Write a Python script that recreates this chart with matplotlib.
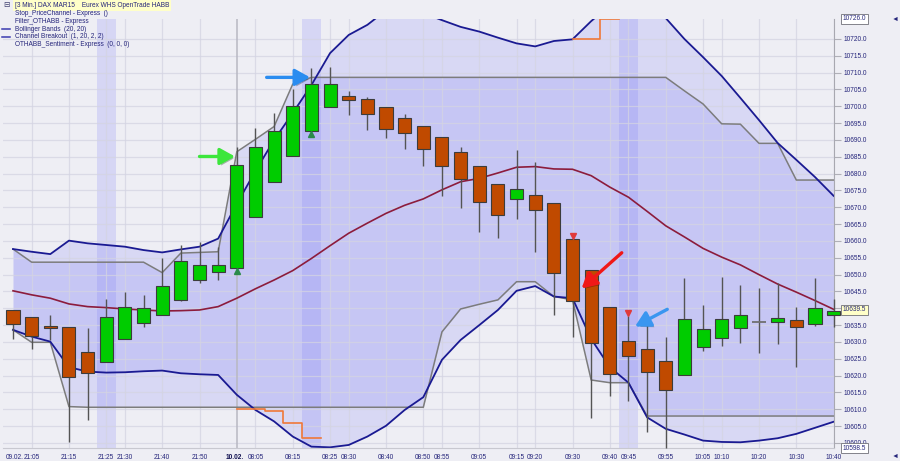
import matplotlib
matplotlib.use("Agg")
import matplotlib.pyplot as plt
import numpy as np
from matplotlib import patheffects as pe
from matplotlib.lines import Line2D
from matplotlib.transforms import blended_transform_factory

plt.rcParams['font.family'] = ['Liberation Sans', 'DejaVu Sans']

# ---------------- data ----------------
opens = [10639.5, 10637.3, 10634.6, 10634.3, 10627.0, 10623.9, 10630.8, 10635.6, 10637.9, 10642.4,
         10648.3, 10650.7, 10651.9, 10667.2, 10677.6, 10685.3, 10692.8, 10699.7, 10703.1, 10702.3,
         10699.9, 10696.5, 10694.2, 10690.8, 10686.4, 10682.3, 10676.8, 10672.4, 10673.7, 10671.3,
         10660.7, 10651.4, 10640.5, 10630.3, 10628.0, 10624.4, 10620.2, 10628.4, 10631.2, 10634.1,
         10636.0, 10636.0, 10636.5, 10635.4, 10638.0]
highs = [10639.5, 10637.3, 10638.0, 10634.3, 10634.0, 10642.8, 10644.9, 10643.9, 10654.9, 10658.8,
         10659.8, 10658.3, 10688.0, 10693.7, 10697.9, 10705.1, 10711.3, 10711.6, 10704.6, 10702.9,
         10699.9, 10697.6, 10694.2, 10690.8, 10687.9, 10682.3, 10676.8, 10687.0, 10683.5, 10671.3,
         10660.7, 10651.4, 10640.5, 10637.7, 10635.4, 10631.4, 10648.9, 10640.9, 10649.4, 10646.9,
         10646.0, 10647.4, 10640.5, 10648.9, 10642.9]
lows = [10630.8, 10627.8, 10630.6, 10600.2, 10606.8, 10623.9, 10630.8, 10634.4, 10637.9, 10642.2,
        10647.4, 10648.4, 10651.9, 10667.2, 10677.6, 10685.3, 10692.8, 10699.7, 10697.4, 10693.0,
        10690.5, 10687.3, 10682.4, 10673.4, 10669.8, 10662.8, 10660.9, 10666.4, 10656.8, 10638.0,
        10631.4, 10607.3, 10613.8, 10612.5, 10603.4, 10598.5, 10620.2, 10627.3, 10628.8, 10629.8,
        10626.8, 10629.4, 10622.5, 10634.6, 10634.4]
closes = [10635.3, 10631.9, 10634.0, 10619.7, 10620.7, 10637.4, 10640.4, 10640.1, 10646.6, 10654.0,
          10653.0, 10653.0, 10682.6, 10688.0, 10692.7, 10700.1, 10706.6, 10706.6, 10701.8, 10697.7,
          10693.4, 10692.0, 10687.4, 10682.2, 10678.4, 10671.7, 10667.6, 10675.3, 10669.2, 10650.4,
          10642.3, 10629.6, 10620.4, 10625.9, 10621.1, 10615.7, 10636.8, 10633.8, 10636.9, 10637.9,
          10636.0, 10637.0, 10634.3, 10640.1, 10639.3]

bb_upper = [10657.6, 10656.8, 10656.1, 10660.1, 10659.3, 10658.8, 10658.3, 10657.3, 10656.6, 10657.5,
            10658.3, 10660.7, 10671.0, 10680.8, 10690.0, 10698.0, 10706.3, 10715.8, 10721.2, 10724.2,
            10728.5, 10729.5, 10727.7, 10725.6, 10723.6, 10722.2, 10720.4, 10718.7, 10717.8, 10719.4,
            10719.9, 10725.3, 10730.0, 10732.0, 10730.0, 10726.2, 10720.0, 10714.6, 10709.0, 10702.5,
            10695.9, 10689.1, 10684.1, 10679.0, 10673.4]
bb_lower = [10633.6, 10631.6, 10630.1, 10622.5, 10621.2, 10620.9, 10621.0, 10621.3, 10621.5, 10620.7,
            10620.4, 10620.2, 10614.3, 10609.8, 10606.4, 10601.9, 10598.9, 10598.7, 10599.4, 10601.9,
            10605.1, 10609.8, 10613.6, 10624.7, 10630.6, 10635.0, 10639.5, 10645.2, 10646.6, 10643.5,
            10643.0, 10630.9, 10622.5, 10617.9, 10607.6, 10604.2, 10602.5, 10600.7, 10600.3, 10600.2,
            10600.7, 10601.4, 10602.7, 10604.5, 10606.3]
bb_mid = [10645.2, 10644.0, 10643.0, 10641.3, 10640.5, 10640.2, 10639.8, 10639.5, 10639.2, 10639.3,
          10639.5, 10640.5, 10643.0, 10645.8, 10648.4, 10651.2, 10654.8, 10658.6, 10662.3, 10665.3,
          10668.2, 10670.6, 10672.5, 10675.2, 10677.6, 10678.6, 10680.2, 10681.9, 10682.1, 10681.4,
          10681.3, 10679.4, 10676.0, 10673.0, 10668.8, 10664.5, 10661.2, 10657.8, 10655.2, 10652.9,
          10650.0, 10647.2, 10644.8, 10642.3, 10639.7]
ch_upper = [10657.6, 10653.7, 10653.7, 10653.7, 10653.7, 10653.7, 10653.7, 10653.7, 10650.6, 10656.4,
            10656.6, 10656.8, 10686.5, 10690.2, 10694.0, 10706.6, 10708.6, 10708.6, 10708.6, 10708.6,
            10708.6, 10708.6, 10708.6, 10708.6, 10708.6, 10708.6, 10708.6, 10708.6, 10708.6, 10708.6,
            10708.6, 10708.6, 10708.6, 10708.6, 10708.6, 10708.6, 10704.6, 10700.7, 10694.8, 10694.7,
            10689.0, 10689.0, 10678.1, 10678.1, 10678.1]
ch_lower = [10633.6, 10629.9, 10629.9, 10610.8, 10610.6, 10610.6, 10610.6, 10610.6, 10610.6, 10610.6,
            10610.6, 10610.6, 10610.6, 10610.6, 10610.6, 10610.6, 10610.6, 10610.6, 10610.6, 10610.6,
            10610.6, 10610.6, 10610.6, 10633.0, 10639.8, 10641.2, 10642.5, 10647.9, 10647.9, 10643.5,
            10642.5, 10618.7, 10617.9, 10617.9, 10608.0, 10608.0, 10608.0, 10608.0, 10608.0, 10608.0,
            10608.0, 10608.0, 10608.0, 10608.0, 10608.0]

stop_hi_bars = [30, 31, 32]
stop_hi = [10719.9, 10719.9, 10725.9]
stop_lo_bars = [12, 13, 14, 15, 16]
stop_lo = [10610.0, 10610.0, 10609.5, 10606.0, 10601.4]

filter_bars = [5, 16, 33]
buy_bars = [12, 16]
sell_bars = [30, 33]

tick_bars = [1, 3, 5, 6, 8, 10, 13, 15, 17, 18, 20, 22, 23, 25, 27, 28, 30, 32, 33, 35, 37, 38, 40, 42, 44]
tick_labels = ['21:05', '21:15', '21:25', '21:30', '21:40', '21:50', '08:05', '08:15', '08:25', '08:30',
               '08:40', '08:50', '08:55', '09:05', '09:15', '09:20', '09:30', '09:40', '09:45', '09:55',
               '10:05', '10:10', '10:20', '10:30', '10:40']
day_break_bar = 12

# annotation arrows: (tail bar, tail price, tip bar, tip price, colour)
arrows = [(10.0, 10685.1, 11.9, 10685.1, '#3CE63C'),
          (13.6, 10708.6, 15.93, 10708.6, '#2A8CF0'),
          (32.64, 10656.5, 30.49, 10645.9, '#F01818'),
          (35.08, 10639.7, 33.35, 10634.6, '#3A96F0')]

legend_lines = ['Stop_PriceChannel - Express  ()', 'Filter_OTHABB - Express', 'Bollinger Bands  (20, 20)',
                'Channel Breakout  (1, 20, 2, 2)', 'OTHABB_Sentiment - Express  (0, 0, 0)']
title_text = '[3 Min.] DAX MAR15    Eurex WHS OpenTrade HABB'
last_price = 10639.5
range_high = 10726.0
range_low = 10598.5

# ---------------- drawing ----------------
W, H = 900, 461
BG = '#EEEEF4'
NAVY = '#24247A'
FS = 4.7
fig = plt.figure(figsize=(W / 100, H / 100), dpi=100, facecolor=BG)
ax = fig.add_axes([3 / W, 1 - 448 / H, 831 / W, (448 - 18.8) / H])
ax.set_facecolor(BG)
ax.set_xlim(-0.536, 44.02)
ax.set_ylim(range_low, range_high)

n = len(opens)
x = np.arange(n)
fill_c = (118 / 255, 118 / 255, 245 / 255)

ax.fill_between(x, bb_lower, bb_upper, color=fill_c, alpha=0.18, lw=0, zorder=1)
ax.fill_between(x, ch_lower, ch_upper, color=fill_c, alpha=0.18, lw=0, zorder=1)
for b in filter_bars:
    ax.axvspan(b - 0.5, b + 0.5, color=fill_c, alpha=0.2, lw=0, zorder=1.1)

# grid
ax.set_axisbelow('line')
ax.set_yticks(np.arange(10600, 10721, 5))
ax.set_xticks(tick_bars)
ax.set_xticklabels(tick_labels)
ax.grid(True, color='#D4D4E2', alpha=0.75, lw=0.9)
ax.axvline(day_break_bar, color='#B8B8C2', lw=1.1, zorder=1.6)

# indicator lines
ax.plot(x, ch_upper, color='#7C7C7C', lw=1.1, zorder=2)
ax.plot(x, ch_lower, color='#7C7C7C', lw=1.1, zorder=2)
ax.plot(x, bb_upper, color='#1A1A92', lw=1.3, zorder=2.1)
ax.plot(x, bb_lower, color='#1A1A92', lw=1.3, zorder=2.1)
ax.plot(x, bb_mid, color='#8C1C3C', lw=1.2, zorder=2.1)


def step_path(bars, vals):
    xs, ys = [bars[0]], [vals[0]]
    for i in range(1, len(bars)):
        xs += [bars[i] - 0.5, bars[i] - 0.5]
        ys += [vals[i - 1], vals[i]]
    xs.append(bars[-1] + 0.5)
    ys.append(vals[-1])
    return xs, ys


for bars, vals in ((stop_hi_bars, stop_hi), (stop_lo_bars, stop_lo)):
    sx, sy = step_path(bars, vals)
    ax.plot(sx, sy, color='#F07838', lw=1.2, zorder=2.2)

# candles
GREEN = '#00CC00'
BROWN = '#C04A00'
for i in range(n):
    o, h, l, c = opens[i], highs[i], lows[i], closes[i]
    ax.vlines(i, l, h, color='#545454', lw=1.0, zorder=3, clip_on=False)
    if c != o:
        col = GREEN if c > o else BROWN
        ax.bar(i, abs(c - o), bottom=min(o, c), width=0.7, color=col,
               edgecolor='#3C3C3C', lw=0.8, zorder=4, clip_on=False)
    else:
        ax.hlines(o, i - 0.35, i + 0.35, color='#707070', lw=1.3, zorder=4, clip_on=False)

ax.plot(buy_bars, [lows[b] - 0.9 for b in buy_bars], ls='none', marker='^',
        ms=4.5, color='#2A8A4A', zorder=5)
ax.plot(sell_bars, [highs[b] + 0.8 for b in sell_bars], ls='none', marker='v',
        ms=4.5, color='#E03A3A', zorder=5)

for tx, ty, hx, hy, col in arrows:
    ann = ax.annotate('', xy=(hx, hy), xytext=(tx, ty),
                      arrowprops=dict(arrowstyle='-|>,head_length=0.9,head_width=0.5',
                                      color=col, lw=2.4, shrinkA=0, shrinkB=0,
                                      mutation_scale=10), zorder=6)
    ann.arrow_patch.set_path_effects([pe.withSimplePatchShadow(offset=(1.5, -1.5), alpha=0.35)])

# axes styling
for s in ('left', 'top'):
    ax.spines[s].set_visible(False)
ax.spines['right'].set_color('#A8A8B0')
ax.spines['bottom'].set_color('#C8C8D0')
ax.yaxis.tick_right()
ax.set_yticklabels([f'{v:.1f}' for v in np.arange(10600, 10721, 5)])
ax.tick_params(axis='y', length=5, width=0.8, color='#B0B0B8', pad=1.5,
               labelsize=FS, labelcolor=NAVY)
ax.tick_params(axis='x', length=0, pad=4, labelsize=FS, labelcolor=NAVY)

tr = blended_transform_factory(ax.transData, ax.transAxes)
ax.annotate('09.02.', xy=(tick_bars[0], 0), xycoords=tr, xytext=(-5.8, -6.6),
            textcoords='offset points', ha='right', va='center', fontsize=FS, color=NAVY)
ax.annotate('10.02.', xy=(tick_bars[6], 0), xycoords=tr, xytext=(-8.5, -6.6),
            textcoords='offset points', ha='right', va='center', fontsize=FS,
            color='#101050', fontweight='bold')

# highlighted price boxes on the right axis
tr_y = blended_transform_factory(ax.transAxes, ax.transData)
xb = (843 - 3) / 831
for val, fc in ((range_high, 'white'), (last_price, '#FFFFC8'), (range_low, 'white')):
    ax.text(xb, val, f'{val:.1f}', transform=tr_y, ha='left', va='center', fontsize=FS,
            color=NAVY, zorder=10, clip_on=False,
            bbox=dict(boxstyle='square,pad=0.25', fc=fc, ec='#707078', lw=0.6))
fig.text(895 / W, 1 - 19 / H, '\u25C4', fontsize=5, color=NAVY, ha='center', va='center')
fig.text(895 / W, 1 - 456 / H, '\u25C4', fontsize=5, color=NAVY, ha='center', va='center')

# legend text block
fig.text(15 / W, 1 - 5.7 / H, title_text, fontsize=FS, color=NAVY, ha='left', va='center',
         bbox=dict(boxstyle='square,pad=0.3', fc='#FFFFC8', ec='none'))
fig.text(6 / W, 1 - 5.7 / H, '\u229F', fontsize=5.5, color='#404070', ha='center', va='center')
ys_leg = [13.7, 21.5, 29.3, 37.0, 44.7]
for txt, yy in zip(legend_lines, ys_leg):
    fig.text(15 / W, 1 - yy / H, txt, fontsize=FS, color=NAVY, ha='left', va='center')
for yy in ys_leg[2:4]:
    fig.add_artist(Line2D([2 / W, 10 / W], [1 - yy / H, 1 - yy / H], color='#3A3AB0', lw=1.1))

fig.savefig('out.png', dpi=100, facecolor=BG)
